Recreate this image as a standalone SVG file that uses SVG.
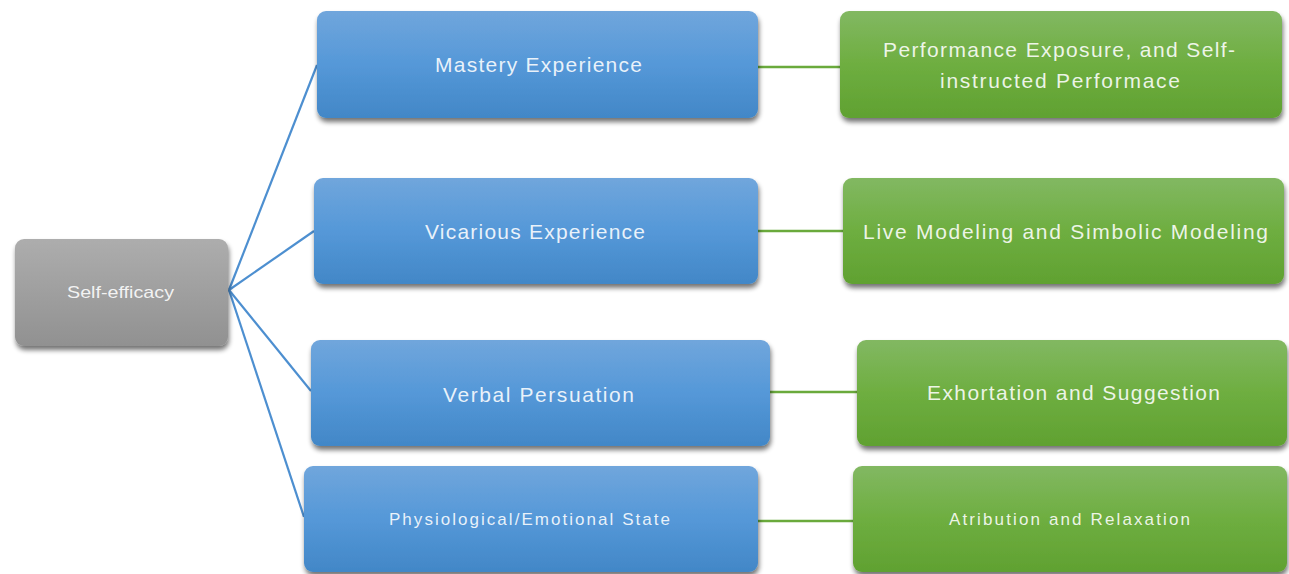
<svg xmlns="http://www.w3.org/2000/svg" width="1289" height="574" viewBox="0 0 1289 574">
<defs>
<linearGradient id="gBlue" x1="0" y1="0" x2="0" y2="1"><stop offset="0" stop-color="#70a6dc"/><stop offset="0.5" stop-color="#5598d8"/><stop offset="1" stop-color="#4287c7"/></linearGradient>
<linearGradient id="gGreen" x1="0" y1="0" x2="0" y2="1"><stop offset="0" stop-color="#82b862"/><stop offset="0.5" stop-color="#6eae40"/><stop offset="1" stop-color="#60a131"/></linearGradient>
<linearGradient id="gGray" x1="0" y1="0" x2="0" y2="1"><stop offset="0" stop-color="#adadad"/><stop offset="1" stop-color="#919191"/></linearGradient>
<filter id="sh" x="-10%" y="-20%" width="120%" height="150%">
<feGaussianBlur in="SourceAlpha" stdDeviation="2.5"/>
<feOffset dx="1" dy="4" result="b"/>
<feComponentTransfer><feFuncA type="linear" slope="0.55"/></feComponentTransfer>
<feMerge><feMergeNode/><feMergeNode in="SourceGraphic"/></feMerge>
</filter>
</defs>
<style>
.blue{fill:url(#gBlue);filter:url(#sh)}
.green{fill:url(#gGreen);filter:url(#sh)}
.gray{fill:url(#gGray);filter:url(#sh)}
.t{font-family:"Liberation Sans",Arial,sans-serif;fill:#ffffff;fill-opacity:0.88;text-anchor:start;dominant-baseline:central}
.l{font-size:21px}
.s{font-size:17px}
.bl{stroke:#4d8fd0;stroke-width:2.2;fill:none}
.gl{stroke:#6aaa3c;stroke-width:2.5;fill:none}
</style>
<rect width="1289" height="574" fill="#ffffff"/>
<g id="connectors">
<line class="bl" x1="229" y1="290" x2="317" y2="65"/>
<line class="bl" x1="229" y1="290" x2="314" y2="231"/>
<line class="bl" x1="229" y1="290" x2="311" y2="391"/>
<line class="bl" x1="229" y1="290" x2="304" y2="517"/>
<line class="gl" x1="758" y1="67" x2="840" y2="67"/>
<line class="gl" x1="758" y1="231" x2="843" y2="231"/>
<line class="gl" x1="770" y1="392" x2="857" y2="392"/>
<line class="gl" x1="758" y1="521" x2="853" y2="521"/>
</g>
<g id="self-efficacy">
<rect class="gray" x="15" y="239" width="213" height="107" rx="9"/>
<text class="t s" x="67" y="292" textLength="107" lengthAdjust="spacingAndGlyphs">Self-efficacy</text>
</g>
<g id="mastery">
<rect class="blue" x="317" y="11" width="441" height="107" rx="9"/>
<text class="t l" x="435" y="64" textLength="207" lengthAdjust="spacing">Mastery Experience</text>
</g>
<g id="vicarious">
<rect class="blue" x="314" y="178" width="444" height="106" rx="9"/>
<text class="t l" x="425" y="231" textLength="220" lengthAdjust="spacing">Vicarious Experience</text>
</g>
<g id="verbal">
<rect class="blue" x="311" y="340" width="459" height="106" rx="9"/>
<text class="t l" x="443" y="394" textLength="191" lengthAdjust="spacing">Verbal Persuation</text>
</g>
<g id="physiological">
<rect class="blue" x="304" y="466" width="454" height="106" rx="9"/>
<text class="t s" x="389" y="519" textLength="281" lengthAdjust="spacing">Physiological/Emotional State</text>
</g>
<g id="performance">
<rect class="green" x="840" y="11" width="442" height="107" rx="9"/>
<text class="t l" x="883" y="49" textLength="352" lengthAdjust="spacing">Performance Exposure, and Self-</text>
<text class="t l" x="940" y="80" textLength="240" lengthAdjust="spacing">instructed Performace</text>
</g>
<g id="modeling">
<rect class="green" x="843" y="178" width="441" height="106" rx="9"/>
<text class="t l" x="863" y="231" textLength="405" lengthAdjust="spacing">Live Modeling and Simbolic Modeling</text>
</g>
<g id="exhortation">
<rect class="green" x="857" y="340" width="430" height="106" rx="9"/>
<text class="t l" x="927" y="392" textLength="293" lengthAdjust="spacing">Exhortation and Suggestion</text>
</g>
<g id="atribution">
<rect class="green" x="853" y="466" width="434" height="106" rx="9"/>
<text class="t s" x="949" y="519" textLength="241" lengthAdjust="spacing">Atribution and Relaxation</text>
</g>
</svg>
